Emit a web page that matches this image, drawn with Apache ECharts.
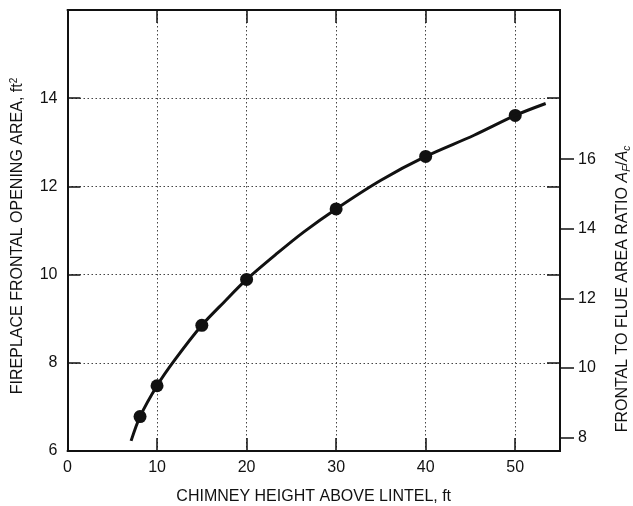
<!DOCTYPE html>
<html>
<head>
<meta charset="utf-8">
<script src="https://cdn.jsdelivr.net/npm/echarts@6/dist/echarts.min.js"></script>
<style>
  html, body { margin: 0; padding: 0; background: #fff; }
  #chart { width: 633px; height: 506px; }
</style>
</head>
<body>
<div id="chart"></div>
<script>
// Fireplace frontal opening area vs. chimney height above lintel
const heightTicks = [0, 10, 20, 30, 40, 50];
const areaTicks = [6, 8, 10, 12, 14];
const ratioTicks = [8, 10, 12, 14, 16];

// measured points (chimney height ft, opening area ft²)
const pointHeights = [8.1, 10, 15, 20, 30, 40, 50];
const pointAreas = [6.78, 7.48, 8.85, 9.89, 11.49, 12.68, 13.61];

// fitted curve drawn through the measurements
const curveHeights = [7.1, 8.1, 10, 12, 15, 17.5, 20, 23.4, 26.4, 30, 35, 40, 45.4, 50, 53.4];
const curveAreas = [6.23, 6.78, 7.48, 8.07, 8.85, 9.38, 9.89, 10.48, 10.97, 11.49, 12.14, 12.68, 13.16, 13.61, 13.88];

// ratio axis = area / flue area
const flueArea = 0.7885;
const areaMin = 6, areaMax = 16;

const FONT = 'Liberation Sans, Arial, Helvetica, sans-serif';
const INK = '#111';

const chart = echarts.init(document.getElementById('chart'), null, { renderer: 'canvas' });

const baseLine = { show: true, onZero: false, lineStyle: { color: INK, width: 2 } };
const inTick = { show: true, inside: true, length: 13, lineStyle: { color: INK, width: 1.5 } };
const dotted = { show: true, lineStyle: { color: '#444', width: 1, type: [1.5, 2.5] } };

chart.setOption({
  animation: false,
  backgroundColor: '#fff',
  grid: { left: 67.5, right: 73, top: 10, bottom: 55, containLabel: false, outerBoundsMode: 'none' },
  xAxis: [
    {
      type: 'value', position: 'bottom', min: 0, max: 55, interval: 10,
      axisLine: baseLine, axisTick: inTick,
      axisLabel: { color: INK, fontFamily: FONT, fontSize: 16, margin: 9,
        formatter: v => heightTicks.includes(v) ? String(v) : '' },
      splitLine: dotted
    },
    {
      type: 'value', position: 'top', min: 0, max: 55, interval: 10,
      axisLine: baseLine, axisTick: inTick,
      axisLabel: { show: false }, splitLine: { show: false }
    }
  ],
  yAxis: [
    {
      type: 'value', position: 'left', min: areaMin, max: areaMax, interval: 2,
      axisLine: baseLine, axisTick: inTick,
      axisLabel: { color: INK, fontFamily: FONT, fontSize: 16, margin: 10,
        formatter: v => areaTicks.includes(v) ? String(v) : '' },
      splitLine: dotted
    },
    {
      type: 'value', position: 'right', min: areaMin, max: areaMax, interval: 2,
      axisLine: baseLine, axisTick: inTick,
      axisLabel: { show: false }, splitLine: { show: false }
    },
    {
      type: 'value', position: 'right',
      min: areaMin / flueArea, max: areaMax / flueArea,
      axisLine: baseLine,
      axisTick: { show: true, inside: false, length: 14, customValues: ratioTicks,
        lineStyle: { color: INK, width: 1.5 } },
      axisLabel: { color: INK, fontFamily: FONT, fontSize: 16, margin: 18, customValues: ratioTicks },
      splitLine: { show: false }
    }
  ],
  series: [
    {
      type: 'line', xAxisIndex: 0, yAxisIndex: 0,
      data: curveHeights.map((h, i) => [h, curveAreas[i]]),
      smooth: 0.3, showSymbol: false, symbol: 'none',
      lineStyle: { color: INK, width: 3 }
    },
    {
      type: 'scatter', xAxisIndex: 0, yAxisIndex: 0,
      data: pointHeights.map((h, i) => [h, pointAreas[i]]),
      symbol: 'circle', symbolSize: 13,
      itemStyle: { color: INK, opacity: 1 }
    }
  ],
  graphic: [
    {
      type: 'text', x: 18, y: 236, rotation: Math.PI / 2,
      style: {
        text: '{m|FIREPLACE FRONTAL OPENING AREA, ft}{s|2}',
        align: 'center', verticalAlign: 'middle', fill: INK,
        rich: {
          m: { fontFamily: FONT, fontSize: 16, lineHeight: 18, fill: INK },
          s: { fontFamily: FONT, fontSize: 10, lineHeight: 10, verticalAlign: 'top', fill: INK }
        }
      }
    },
    {
      type: 'text', x: 623, y: 289, rotation: Math.PI / 2,
      style: {
        text: '{m|FRONTAL TO FLUE AREA RATIO }{i|A}{b|F}{m|/}{i|A}{b|c}',
        align: 'center', verticalAlign: 'middle', fill: INK,
        rich: {
          m: { fontFamily: FONT, fontSize: 16, lineHeight: 18, fill: INK },
          i: { fontFamily: FONT, fontSize: 16, fontStyle: 'italic', lineHeight: 18, fill: INK },
          b: { fontFamily: FONT, fontSize: 10, fontStyle: 'italic', lineHeight: 10, verticalAlign: 'bottom', fill: INK }
        }
      }
    },
    {
      type: 'text', x: 313.7, y: 497,
      style: {
        text: 'CHIMNEY HEIGHT ABOVE LINTEL, ft',
        align: 'center', verticalAlign: 'middle', fill: INK,
        fontFamily: FONT, fontSize: 16
      }
    }
  ]
});
</script>
</body>
</html>
